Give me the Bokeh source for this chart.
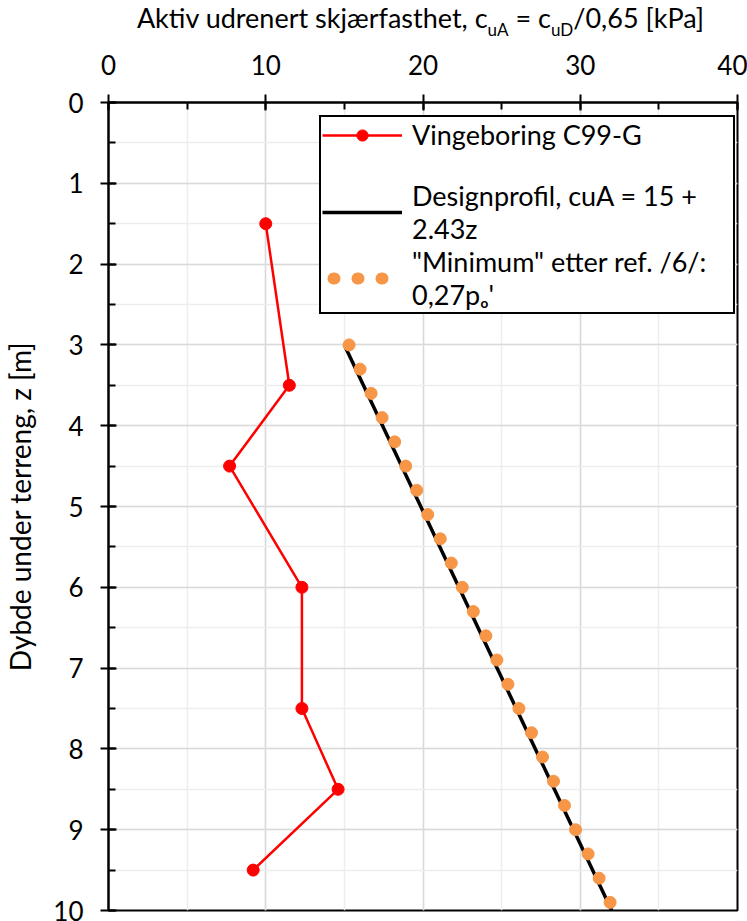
from bokeh.plotting import figure
from bokeh.models import Range1d, SingleIntervalTicker, Legend, LegendItem, Div
from bokeh.layouts import column
from bokeh.embed import file_html
from bokeh.resources import INLINE

# ---- data ----
depth_vb = [1.5, 3.5, 4.5, 6.0, 7.5, 8.5, 9.5]
cu_vb = [10.0, 11.5, 7.7, 12.3, 12.3, 14.6, 9.2]

depth_design = [3.0, 10.0]
cu_design = [15.0, 32.0]

depth_min = [3.0, 3.3, 3.6, 3.9, 4.2, 4.5, 4.8, 5.1, 5.4, 5.7, 6.0, 6.3,
             6.6, 6.9, 7.2, 7.5, 7.8, 8.1, 8.4, 8.7, 9.0, 9.3, 9.6, 9.9]
cu_min = [15.3, 16.0, 16.7, 17.4, 18.2, 18.9, 19.6, 20.3, 21.1, 21.8, 22.5, 23.2,
          24.0, 24.7, 25.4, 26.1, 26.9, 27.6, 28.3, 29.0, 29.7, 30.5, 31.2, 31.9]

label_vb = "Vingeboring C99-G"
label_design = "Designprofil, cuA = 15 +\n2.43z"
label_min = "\"Minimum\" etter ref. /6/:\n0,27p\u2092'"
y_label = "Dybde under terreng, z [m]"
title_main = "Aktiv udrenert skj\u00e6rfasthet, c"
title_sub1 = "uA"
title_mid = " = c"
title_sub2 = "uD"
title_end = "/0,65 [kPa]"

FONT = "Lato"
RED = "#FF0000"
ORANGE = "#F79646"

# ---- title (HTML, for the subscripts) ----
sub_style = "font-size:17px;position:relative;top:8px"
title_html = (
    '<div style="width:633px;margin-left:104px;text-align:center;'
    'font-family:Lato;font-size:27px;line-height:27px;padding-top:4px;'
    'color:#000;white-space:nowrap">'
    f'{title_main}<span style="{sub_style}">{title_sub1}</span>{title_mid}'
    f'<span style="{sub_style}">{title_sub2}</span>{title_end}</div>'
)
title_div = Div(text=title_html, width=747, height=40, margin=0)

p = figure(width=747, height=881,
           x_range=Range1d(0, 40), y_range=Range1d(10, 0),
           x_axis_location="above",
           output_backend="svg", toolbar_location=None,
           min_border_left=104, min_border_top=62,
           min_border_right=10, min_border_bottom=11, margin=0)

p.outline_line_color = "black"
p.outline_line_width = 2
p.outline_line_alpha = 1

p.xaxis.ticker = SingleIntervalTicker(interval=10, num_minor_ticks=2)
p.yaxis.ticker = SingleIntervalTicker(interval=1, num_minor_ticks=2)

for ax in (p.xaxis[0], p.yaxis[0]):
    ax.axis_line_color = "black"
    ax.axis_line_width = 2
    ax.major_tick_line_color = "black"
    ax.major_tick_line_width = 2
    ax.minor_tick_line_color = "black"
    ax.minor_tick_line_width = 2
    ax.major_tick_in = 8
    ax.major_tick_out = 8
    ax.minor_tick_in = 7
    ax.minor_tick_out = 0
    ax.major_label_text_font = FONT
    ax.major_label_text_font_size = "26px"
    ax.major_label_text_color = "black"

p.xaxis.major_label_standoff = 20
p.yaxis.major_label_standoff = 17
p.yaxis.axis_label = y_label
p.yaxis.axis_label_text_font = FONT
p.yaxis.axis_label_text_font_style = "normal"
p.yaxis.axis_label_text_font_size = "28px"
p.yaxis.axis_label_text_color = "black"
p.yaxis.axis_label_standoff = 13

p.xgrid.grid_line_color = "#D9D9D9"
p.xgrid.grid_line_width = 1.5
p.xgrid.minor_grid_line_color = "#EDEDED"
p.xgrid.minor_grid_line_width = 1.5
p.ygrid.grid_line_color = "#D9D9D9"
p.ygrid.grid_line_width = 1.5
p.ygrid.minor_grid_line_color = "#EDEDED"
p.ygrid.minor_grid_line_width = 1.5

# ---- series ----
r_vb_line = p.line(cu_vb, depth_vb, line_color=RED, line_width=2.5)
r_vb_pts = p.scatter(cu_vb, depth_vb, size=12, fill_color=RED, line_color=RED)
r_design = p.line(cu_design, depth_design, line_color="black", line_width=3.5)
r_min = p.scatter(cu_min, depth_min, size=12, fill_color=ORANGE, line_color=ORANGE)
# legend sample for the dotted series: a one-vertex line (draws nothing in the plot)
r_min_leg = p.line(cu_min[:1], depth_min[:1], line_color=ORANGE, line_width=12,
                   line_dash="1 23", line_dash_offset=13, line_cap="round")
# empty spacer row in the legend
r_spacer = p.line(cu_min[:1], depth_min[:1], line_alpha=0)

legend = Legend(items=[
    LegendItem(label=label_vb, renderers=[r_vb_line, r_vb_pts]),
    LegendItem(label="", renderers=[r_spacer]),
    LegendItem(label=label_design, renderers=[r_design]),
    LegendItem(label=label_min, renderers=[r_min_leg]),
], location=(211, 596))
legend.border_line_color = "black"
legend.border_line_width = 2
legend.border_line_alpha = 1
legend.background_fill_color = "white"
legend.background_fill_alpha = 1
legend.label_text_font = FONT
legend.label_text_font_size = "27px"
legend.label_text_color = "black"
legend.glyph_width = 80
legend.glyph_height = 28
legend.label_height = 26
legend.label_width = 320
legend.label_standoff = 10
legend.padding = 1
legend.spacing = 0
legend.margin = 0
p.add_layout(legend)

layout = column(title_div, p, spacing=0, margin=0)
open("out.html", "w").write(file_html(layout, INLINE))
